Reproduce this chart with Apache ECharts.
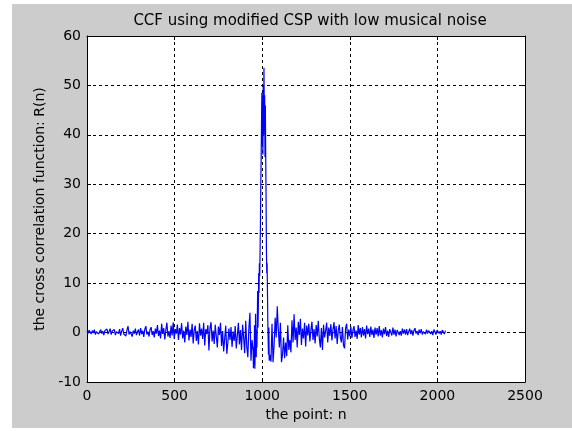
<!DOCTYPE html>
<html>
<head>
<meta charset="utf-8">
<title>CCF using modified CSP</title>
<script src="https://cdn.jsdelivr.net/npm/echarts@6/dist/echarts.min.js"></script>
<style>
  html, body { margin: 0; padding: 0; background: #ffffff; width: 572px; height: 431px; overflow: hidden; }
  #frame { position: absolute; left: 12px; top: 4px; width: 560px; height: 424px; background: #cccccc; }
  #ccf { width: 560px; height: 424px; }
</style>
</head>
<body>
<div id="frame"><div id="ccf"></div></div>
<script>
// tick values
const xTicks = [0, 500, 1000, 1500, 2000, 2500];
const yTicks = [-10, 0, 10, 20, 30, 40, 50, 60];

// R(n): left part n = 0..948 every 6 points
const leftStart = 0, leftStep = 6;
const ccfLeft = [
  0.3, -0.2, 0.5, 0.1, -0.3, 0.4, -0.1, 0.6, -0.4, 0.2,
  0.5, -0.3, 0.1, 0.6, -0.2, 0.3, -0.5, 0.4, 0.0, 0.7,
  -0.3, 0.2, 0.8, -0.4, 0.3, -0.1, 0.6, -0.5, 0.2, 0.5,
  -0.2, 0.7, -0.6, 0.3, 0.9, -0.3, 0.1, -0.7, 0.5, 1.3,
  -0.4, 0.2, 0.6, -0.8, 0.4, -0.2, 0.8, -0.5, 0.1, 0.6,
  -0.6, 0.9, -0.3, 0.4, -0.9, 0.7, 1.3, -0.4, 0.2, -0.8,
  0.6, 1.1, -0.5, 0.3, -1.0, 0.8, -0.2, 1.5, -0.7, 0.4,
  -1.2, 1.8, -0.3, 0.9, -1.4, 0.5, 2.0, -0.8, 0.3, -1.1,
  1.4, -0.6, 2.1, -1.3, 0.7, -0.2, 1.6, -1.5, 0.9, -0.4,
  1.9, -1.2, 0.4, -2.0, 1.2, -0.5, 2.2, -1.6, 0.6, -0.9,
  1.8, -2.2, 0.5, 1.4, -1.7, 0.3, -2.4, 1.9, -0.6, 0.8,
  -1.3, 2.0, -2.6, 0.7, -0.3, 1.5, -3.6, 0.9, 2.1, -1.8,
  0.4, -2.3, 1.6, -0.8, -3.0, 1.2, -0.5, 2.0, -2.7, 0.3,
  -3.8, -1.2, 1.4, -4.3, -2.0, 0.8, -1.5, 1.1, -2.9, 0.2,
  -1.7, 1.3, -3.2, -0.6, 2.0, -2.4, 0.5, -3.5, 1.6, -1.0,
  -4.2, 2.4, -2.8, -5.0, 0.9, 4.0, -5.7, -1.5, -3.6
];

// main peak, n = 950..1040 every 2 points
const peakStart = 950, peakStep = 2;
const ccfPeak = [
  -7.2, -3.0, -6.5, 1.5, -7.3, -4.0, 3.8, -2.0, -5.0, 0.5,
  -3.0, 2.0, 8.4, 1.0, 5.0, 12.0, 8.0, 14.0, 11.5, 17.0,
  22.0, 30.0, 35.0, 42.0, 48.5, 38.0, 47.0, 36.0, 50.0, 40.0,
  53.6, 44.0, 48.0, 35.5, 46.0, 36.0, 28.0, 17.0, 12.0, 14.0,
  8.5, 2.4, -1.5, -4.5, 1.0, -5.7
];

// right part, n = 1044..2046 every 6 points
const rightStart = 1044, rightStep = 6;
const ccfRight = [
  -4.5, -5.9, 1.8, -6.0, -2.5, 3.0, -1.0, 5.3, 0.5, -3.0,
  2.0, -6.0, -4.5, -1.0, -5.2, -2.0, -4.8, 1.5, -3.5, -1.5,
  -4.0, 2.5, -2.0, 3.7, -1.5, 1.0, -3.0, 2.2, -0.5, 2.8,
  -2.5, 0.8, -1.2, 2.0, -2.8, 1.4, -0.6, 1.8, -1.8, 0.5,
  2.2, -1.5, 0.7, -2.2, 1.5, -0.8, 2.4, -1.2, -3.0, 0.9,
  -3.5, 1.6, -1.0, 0.3, 2.0, -2.0, 1.0, -0.7, 1.7, -1.6,
  0.6, 2.1, -1.2, 1.3, -2.3, 0.4, 1.6, -0.9, -2.0, 1.1,
  -2.6, -3.2, 0.9, 1.8, -1.4, 0.6, -0.8, 1.2, -1.1, 0.5,
  1.3, -0.9, 0.4, -1.3, 1.5, -0.4, 0.9, -1.0, 1.1, -0.6,
  0.7, -1.2, 1.4, -0.3, 0.8, -0.9, 1.2, -0.5, 0.6, -1.1,
  1.0, -0.4, 0.9, -0.8, 1.3, -0.6, 0.5, -1.0, 0.8, -0.3,
  1.1, -0.7, 0.4, -0.9, 0.7, 0.1, -0.6, 1.0, -0.4, 0.6,
  -0.8, 0.5, 0.9, -0.5, 0.3, -0.6, 0.8, -0.2, 0.6, -0.4,
  0.7, -0.5, 0.2, 0.8, -0.3, 0.5, -0.6, 0.4, 0.9, -0.2,
  0.3, -0.5, 0.6, -0.1, 0.7, -0.4, 0.2, 0.5, -0.3, 0.6,
  -0.2, 0.4, 0.8, -0.3, 0.3, -0.5, 0.6, 0.1, -0.4, 0.5,
  0.7, -0.2, 0.3, -0.4, 0.5, 0.2, -0.3, 0.4
];

const font = "'DejaVu Sans', Verdana, sans-serif";

function toPairs(values, start, step) {
  return values.map((v, i) => [start + i * step, v]);
}
const ccfData = []
  .concat(toPairs(ccfLeft, leftStart, leftStep))
  .concat(toPairs(ccfPeak, peakStart, peakStep))
  .concat(toPairs(ccfRight, rightStart, rightStep));

const chart = echarts.init(document.getElementById('ccf'), null, { renderer: 'canvas' });

const gridLine = { show: true, lineStyle: { color: '#000', width: 1, type: [3, 3] } };
const axisLine = { show: true, onZero: false, lineStyle: { color: '#000', width: 1 } };
const tick = { show: true, inside: true, length: 4, lineStyle: { color: '#000' } };
const plain = v => String(v);

chart.setOption({
  animation: false,
  backgroundColor: 'transparent',
  title: {
    text: 'CCF using modified CSP with low musical noise',
    left: 293,
    top: 5,
    textAlign: 'center',
    textStyle: { fontFamily: font, fontSize: 15, fontWeight: 'normal', color: '#000' }
  },
  grid: {
    left: 75, right: 47, top: 32, bottom: 46,
    show: true, backgroundColor: '#ffffff', borderWidth: 0
  },
  xAxis: [
    {
      type: 'value', min: xTicks[0], max: xTicks[xTicks.length - 1], interval: 500,
      name: 'the point: n', nameLocation: 'middle', nameGap: 26,
      nameTextStyle: { fontFamily: font, fontSize: 14, color: '#000' },
      axisLine: axisLine, axisTick: tick, splitLine: gridLine,
      axisLabel: { fontFamily: font, fontSize: 14, color: '#000', margin: 7, formatter: plain }
    },
    {
      type: 'value', position: 'top', min: xTicks[0], max: xTicks[xTicks.length - 1], interval: 500,
      axisLine: axisLine, axisTick: tick, splitLine: { show: false }, axisLabel: { show: false }
    }
  ],
  yAxis: [
    {
      type: 'value', min: yTicks[0], max: yTicks[yTicks.length - 1], interval: 10,
      name: 'the cross correlation function: R(n)', nameLocation: 'middle', nameGap: 40,
      nameTextStyle: { fontFamily: font, fontSize: 14, color: '#000' },
      axisLine: axisLine, axisTick: tick, splitLine: gridLine,
      axisLabel: { fontFamily: font, fontSize: 14, color: '#000', margin: 6, formatter: plain }
    },
    {
      type: 'value', position: 'right', min: yTicks[0], max: yTicks[yTicks.length - 1], interval: 10,
      axisLine: axisLine, axisTick: tick, splitLine: { show: false }, axisLabel: { show: false }
    }
  ],
  series: [
    {
      name: 'R(n)',
      type: 'line',
      data: ccfData,
      showSymbol: false,
      symbol: 'none',
      lineStyle: { color: '#0000ff', width: 1.2 },
      z: 3
    }
  ]
});
</script>
</body>
</html>
